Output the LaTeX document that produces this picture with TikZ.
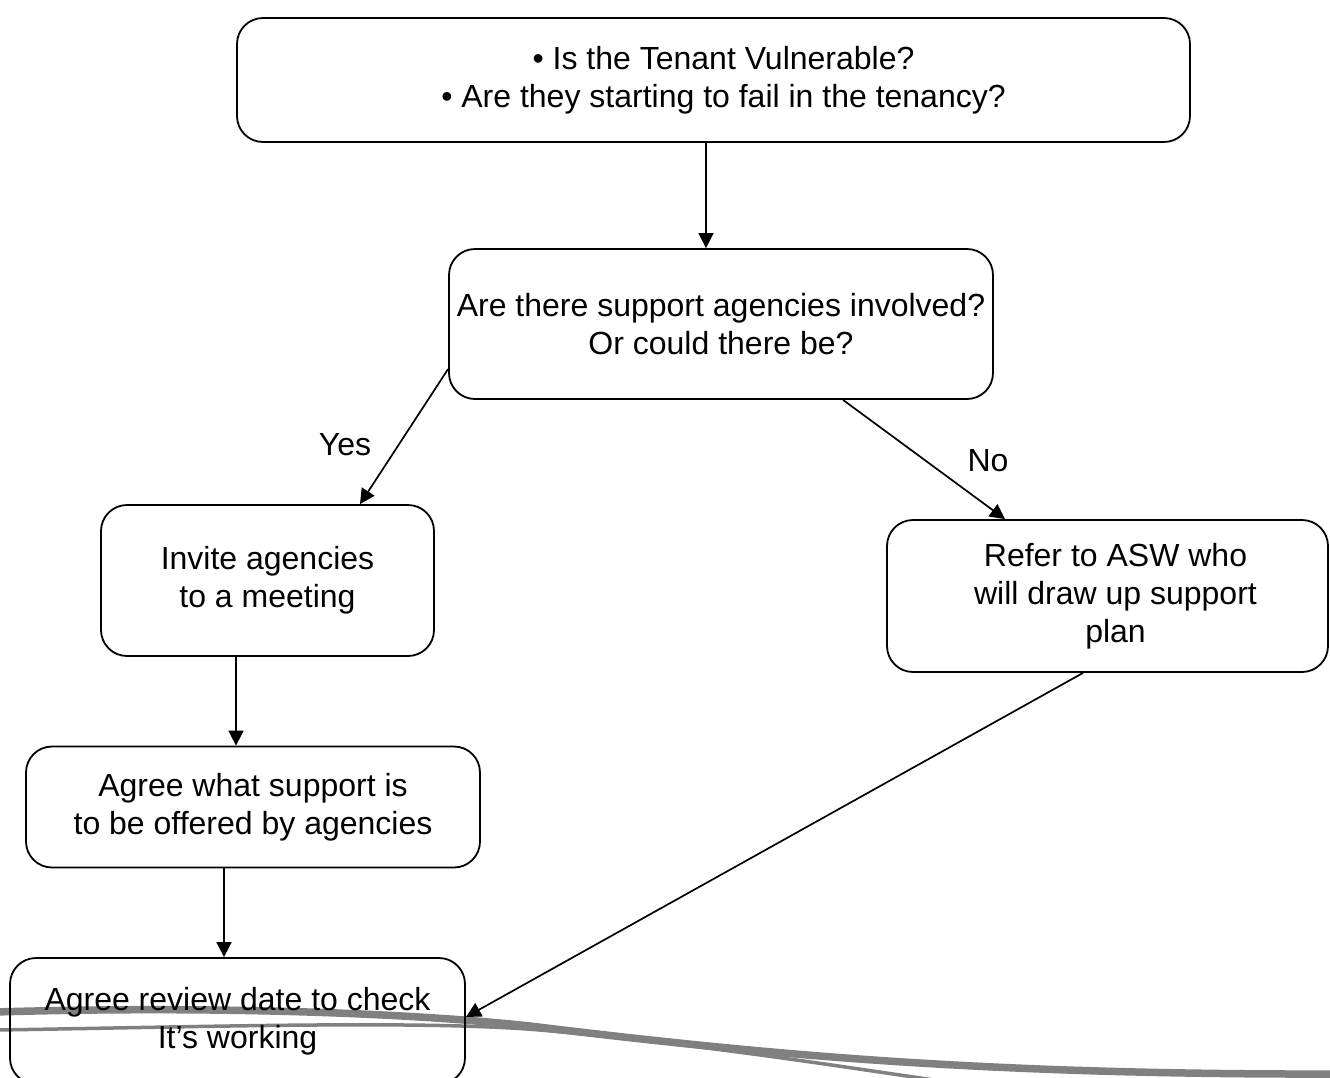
\documentclass[tikz,border=0pt]{standalone}
\usepackage{fontspec}
\setmainfont{Liberation Sans}
\usetikzlibrary{arrows.meta}
\definecolor{swgray}{RGB}{128,128,128}
\begin{document}
\begin{tikzpicture}[x=1pt,y=-1pt,
  box/.style={draw,line width=1.8pt,rounded corners=26pt,align=center,inner sep=0pt,font=\fontsize{32}{38}\selectfont},
  arr/.style={line width=1.7pt,-{Triangle[length=15pt,width=15pt]}},
  lbl/.style={font=\fontsize{32}{38}\selectfont},
  swoosh/.style={draw=swgray,line cap=round}]
\clip (0,0) rectangle (1330,1077);
\fill[white] (0,0) rectangle (1330,1077);
% decorative swoosh
\draw[swoosh,line width=7.5pt] (-5,1012) .. controls (200,1006) and (400,1012) .. (530,1026) .. controls (760,1054) and (980,1075) .. (1340,1074);
\draw[swoosh,line width=3.5pt] (-5,1030) .. controls (200,1027) and (420,1020) .. (540,1030) .. controls (720,1046) and (860,1070) .. (970,1085);
% boxes
\node[box,minimum width=953pt,minimum height=124pt] (top) at (713.5,80)
  {\hspace*{20pt}• Is the Tenant Vulnerable?\\\hspace*{20pt}• Are they starting to fail in the tenancy?};
\node[box,minimum width=544pt,minimum height=150pt] (box2) at (721,324)
  {Are there support agencies involved?\\Or could there be?};
\node[box,minimum width=333pt,minimum height=151pt] (invite) at (267.5,580.5)
  {Invite agencies\\to a meeting};
\node[box,minimum width=441pt,minimum height=152pt] (refer) at (1107.5,596)
  {\hspace*{16pt}Refer to ASW who\\\hspace*{16pt}will draw up support\\\hspace*{16pt}plan};
\node[box,minimum width=454pt,minimum height=121pt] (agreewhat) at (253,807)
  {Agree what support is\\to be offered by agencies};
\node[box,minimum width=455pt,minimum height=126pt] (review) at (237.5,1021)
  {Agree review date to check\\It’s working};
% labels
\node[lbl] (yes) at (345,445) {Yes};
\node[lbl] (no) at (988,461) {No};
% connectors
\draw[arr] ([xshift=-7.5pt]top.south) -- ([xshift=-15pt]box2.north);
\draw[arr] ([yshift=-45pt]box2.west) -- ([xshift=92.5pt]invite.north);
\draw[arr] ([xshift=122pt]box2.south) -- ([xshift=-102.5pt]refer.north);
\draw[arr] ([xshift=-31.5pt]invite.south) -- ([xshift=-17pt]agreewhat.north);
\draw[arr] ([xshift=-29pt]agreewhat.south) -- ([xshift=-13.5pt]review.north);
\draw[arr] ([xshift=-24.5pt]refer.south) -- ([yshift=4pt]review.east);
\end{tikzpicture}
\end{document}
